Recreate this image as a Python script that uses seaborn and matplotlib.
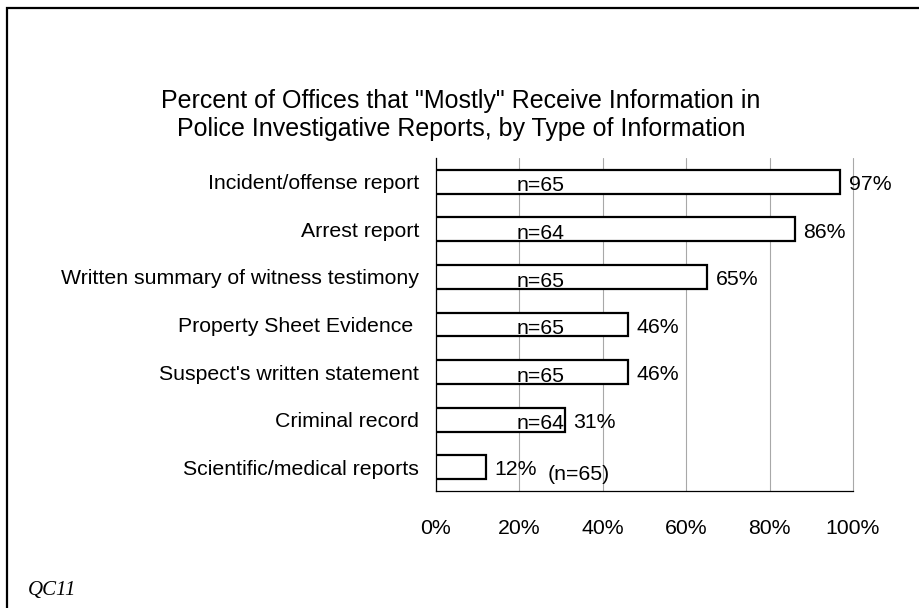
import numpy as np
import pandas as pd
import matplotlib
matplotlib.use('Agg')
import matplotlib.pyplot as plt
from matplotlib.patches import Rectangle
import seaborn as sns

categories = ['Incident/offense report', 'Arrest report', 'Written summary of witness testimony',
              'Property Sheet Evidence ', "Suspect's written statement", 'Criminal record',
              'Scientific/medical reports']
percents = [97, 86, 65, 46, 46, 31, 12]
n_labels = ['n=65', 'n=64', 'n=65', 'n=65', 'n=65', 'n=64', '(n=65)']
x_ticks = [0, 20, 40, 60, 80, 100]

sns.set_style('white')
plt.rcParams['font.family'] = ['Liberation Sans', 'DejaVu Sans']
plt.rcParams['text.color'] = 'black'
plt.rcParams['xtick.color'] = 'black'
plt.rcParams['ytick.color'] = 'black'

FS = 15.3

df = pd.DataFrame({'item': categories, 'pct': percents})

fig = plt.figure(figsize=(9.2, 6.08), dpi=100)
ax = fig.add_axes([436 / 920, 1 - 491 / 608, (853 - 436) / 920, (491 - 158) / 608])

sns.barplot(data=df, x='pct', y='item', color='white', saturation=1, edgecolor='black',
            linewidth=1.6, width=0.5, ax=ax, zorder=3)

ax.set_xlim(0, 100)
ax.set_ylim(6.5, -0.5)
ax.set_xticks(x_ticks)
ax.set_xticklabels([f'{t}%' for t in x_ticks], fontsize=FS)
ax.xaxis.grid(True, color='#a8a8a8', lw=0.8, zorder=0)
for gl in ax.get_xgridlines():
    gl.set_clip_on(False)
ax.set_axisbelow(True)
ax.tick_params(axis='x', which='major', direction='inout', length=7, width=0.8, pad=17)
ax.tick_params(axis='y', which='major', length=0, pad=12, labelsize=FS)
ax.set_yticks(np.arange(-0.5, 7, 1), minor=True)
ax.tick_params(axis='y', which='minor', direction='out', length=4, width=0.8)
ax.set_xlabel('')
ax.set_ylabel('')
for s in ['top', 'right']:
    ax.spines[s].set_visible(False)
for s in ['left', 'bottom']:
    ax.spines[s].set_color('black')
    ax.spines[s].set_linewidth(0.9)

# value labels and sample sizes
for i, (v, n) in enumerate(zip(percents, n_labels)):
    ax.annotate(f'{v}%', (v, i), xytext=(6, -2), textcoords='offset points',
                ha='left', va='center', fontsize=FS)
    if v < 20:
        ax.annotate(n, (v, i), xytext=(44, -5), textcoords='offset points',
                    ha='left', va='center', fontsize=FS)
    else:
        ax.annotate(n, (25, i), xytext=(0, -3), textcoords='offset points',
                    ha='center', va='center', fontsize=FS)

fig.text(461 / 920, 1 - 115 / 608,
         'Percent of Offices that "Mostly" Receive Information in\n'
         'Police Investigative Reports, by Type of Information',
         ha='center', va='center', fontsize=18, linespacing=1.2)

fig.text(28 / 920, 1 - 591 / 608, 'QC11', ha='left', va='center', fontsize=15,
         family='Liberation Serif', style='italic')

fig.add_artist(Rectangle((7 / 920, -0.1), 1.2, 1 - 8 / 608 + 0.1, transform=fig.transFigure,
                         fill=False, ec='black', lw=1.6))

fig.savefig('out.png', dpi=100)
